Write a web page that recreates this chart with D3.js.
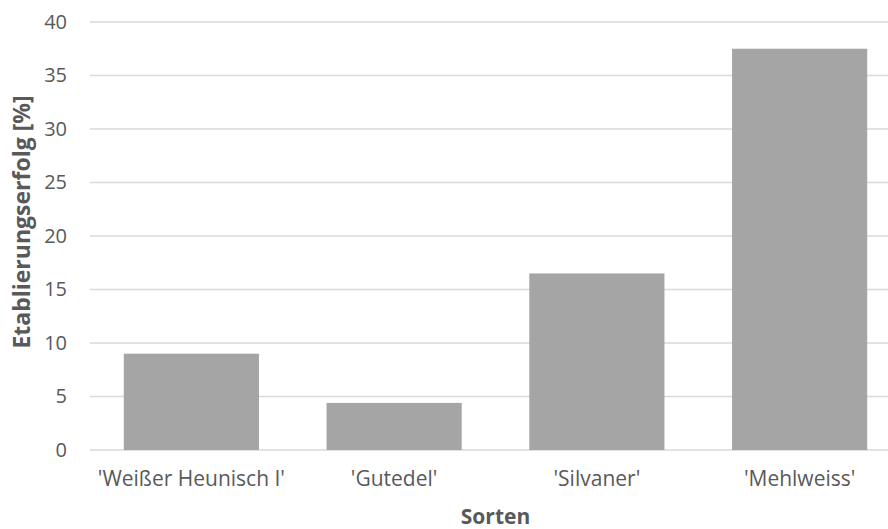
<!DOCTYPE html>
<html>
<head>
<meta charset="utf-8">
<script src="https://cdn.jsdelivr.net/npm/d3@7"></script>
<style>
  html, body { margin: 0; padding: 0; background: #fff; }
  svg { display: block; }
  text { font-family: "Open Sans", "Noto Sans", sans-serif; }
</style>
</head>
<body>
<div id="chart"></div>
<script>
// Etablierungserfolg je Rebsorte
const sorten = ["'Weißer Heunisch I'", "'Gutedel'", "'Silvaner'", "'Mehlweiss'"];
const erfolg = [9.0, 4.4, 16.5, 37.5];
const yTicks = [0, 5, 10, 15, 20, 25, 30, 35, 40];

const width = 888, height = 529;
const margin = { top: 22, right: -13, bottom: 79, left: 90 };

const svg = d3.select("#chart").append("svg")
  .attr("width", width)
  .attr("height", height);

const x = d3.scaleBand()
  .domain(sorten)
  .range([margin.left, width - margin.right])
  .paddingInner(1 / 3)
  .paddingOuter(1 / 6);

const y = d3.scaleLinear()
  .domain([0, 40])
  .range([height - margin.bottom, margin.top]);

// horizontal gridlines
svg.append("g")
  .selectAll("line")
  .data(yTicks)
  .join("line")
  .attr("x1", margin.left)
  .attr("x2", width - margin.right)
  .attr("y1", d => y(d))
  .attr("y2", d => y(d))
  .attr("stroke", "#d9d9d9")
  .attr("stroke-width", 1.3);

// bars
svg.append("g")
  .selectAll("rect")
  .data(sorten.map((s, i) => ({ s, v: erfolg[i] })))
  .join("rect")
  .attr("x", d => x(d.s))
  .attr("width", x.bandwidth())
  .attr("y", d => y(d.v))
  .attr("height", d => y(0) - y(d.v))
  .attr("fill", "#a5a5a5");

// y axis labels
const yAxis = d3.axisLeft(y).tickValues(yTicks).tickSize(0).tickPadding(0);
const gy = svg.append("g")
  .attr("transform", `translate(${margin.left - 23},0)`)
  .call(yAxis);
gy.select(".domain").remove();
gy.selectAll("text")
  .attr("fill", "#595959")
  .style("font-size", "20px");

// x axis labels
const xAxis = d3.axisBottom(x).tickSize(0).tickPadding(0);
const gx = svg.append("g")
  .attr("transform", `translate(0,${y(0) + 21})`)
  .call(xAxis);
gx.select(".domain").remove();
gx.selectAll("text")
  .attr("fill", "#595959")
  .style("font-size", "21px");

// axis titles
svg.append("text")
  .attr("x", (margin.left + width - margin.right) / 2)
  .attr("y", 524)
  .attr("text-anchor", "middle")
  .attr("fill", "#595959")
  .style("font-size", "21px")
  .style("font-weight", "bold")
  .text("Sorten");

svg.append("text")
  .attr("transform", `translate(30,222) rotate(-90)`)
  .attr("text-anchor", "middle")
  .attr("fill", "#595959")
  .style("font-size", "23px")
  .style("font-weight", "bold")
  .text("Etablierungserfolg [%]");
</script>
</body>
</html>
